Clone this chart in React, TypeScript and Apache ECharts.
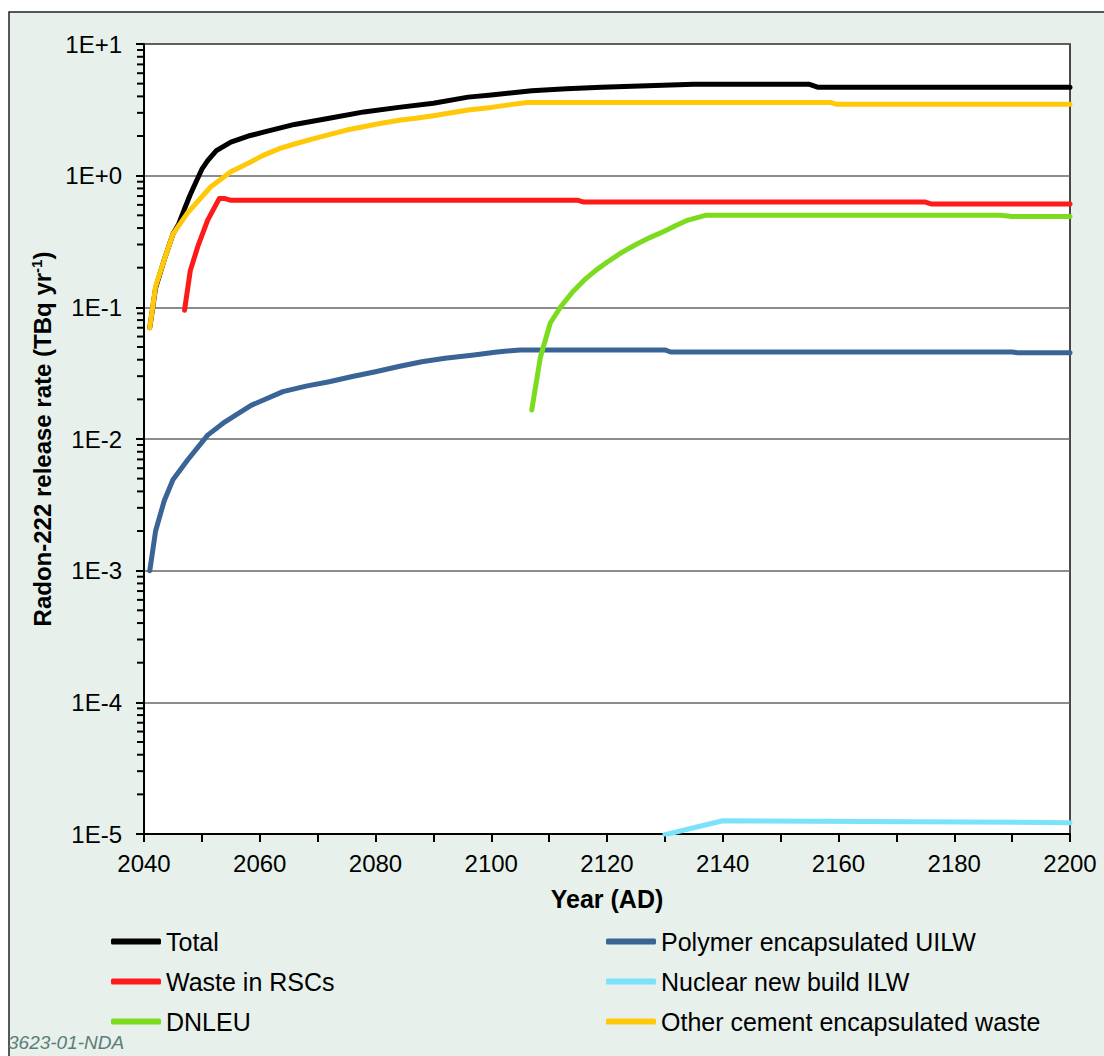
import React, { useEffect, useRef } from "react";
import * as echarts from "echarts";

const FONT = "'Liberation Sans', Arial, sans-serif";

const totalYears = [2041, 2042, 2043.5, 2045, 2046, 2047, 2048, 2049, 2050, 2051, 2052.5, 2055, 2058, 2061, 2066, 2072, 2078, 2084, 2090, 2096, 2100, 2107, 2113, 2119, 2127, 2135, 2155, 2156.5, 2200];
const totalValues = [0.07, 0.14, 0.23, 0.36, 0.43, 0.56, 0.72, 0.9, 1.12, 1.3, 1.55, 1.8, 2.0, 2.16, 2.45, 2.73, 3.05, 3.3, 3.55, 3.95, 4.1, 4.42, 4.58, 4.69, 4.82, 4.94, 4.94, 4.69, 4.69];

const rscYears = [2047, 2048, 2049.3, 2051, 2053, 2054, 2055, 2115, 2116, 2175, 2176, 2200];
const rscValues = [0.095, 0.19, 0.29, 0.46, 0.67, 0.67, 0.65, 0.65, 0.63, 0.63, 0.61, 0.61];

const dnleuYears = [2107, 2108.5, 2110.2, 2112, 2114, 2116, 2118, 2120, 2122.5, 2125, 2127.5, 2130, 2132, 2134, 2137, 2188, 2190, 2200];
const dnleuValues = [0.0166, 0.042, 0.076, 0.101, 0.13, 0.16, 0.19, 0.22, 0.26, 0.3, 0.34, 0.38, 0.42, 0.46, 0.5, 0.5, 0.49, 0.49];

const polymerYears = [2041, 2042, 2043.5, 2045, 2047.5, 2051, 2054, 2058.5, 2064, 2068, 2072, 2076, 2080, 2084, 2088, 2092, 2097, 2101, 2105, 2130, 2131, 2190, 2191, 2200];
const polymerValues = [0.001, 0.002, 0.0034, 0.0049, 0.0069, 0.0107, 0.0135, 0.018, 0.0229, 0.0252, 0.0272, 0.0298, 0.0324, 0.0355, 0.0386, 0.041, 0.0434, 0.0458, 0.0475, 0.0475, 0.0458, 0.0458, 0.0451, 0.0451];

const nnbYears = [2130, 2140, 2200];
const nnbValues = [0.00000987, 0.0000126, 0.0000122];

const otherYears = [2041, 2042, 2043.5, 2045, 2047.5, 2051.5, 2055, 2058, 2060.5, 2063.5, 2066, 2069.5, 2075, 2081, 2084.4, 2087, 2090, 2096, 2100, 2103, 2106.2, 2158.6, 2159.7, 2200];
const otherValues = [0.07, 0.144, 0.23, 0.36, 0.52, 0.82, 1.07, 1.24, 1.42, 1.61, 1.74, 1.92, 2.22, 2.5, 2.65, 2.73, 2.85, 3.15, 3.3, 3.45, 3.6, 3.6, 3.48, 3.48];

const seriesNames = [
  "Total",
  "Waste in RSCs",
  "DNLEU",
  "Polymer encapsulated UILW",
  "Nuclear new build ILW",
  "Other cement encapsulated waste",
];
const seriesColors = ["#000000", "#ff1a1a", "#7ddb1f", "#3a6496", "#7ae2fb", "#ffc90a"];

const minorExponents = [-5, -4, -3, -2, -1, 0];
const minorMultipliers = [2, 3, 4, 5, 6, 7, 8, 9];

const zip = (xs: number[], ys: number[]) => xs.map((x, i) => [x, ys[i]]);

export default function App() {
  const ref = useRef<HTMLDivElement>(null);
  useEffect(() => {
    if (!ref.current) return;
    const chart = echarts.init(ref.current, null, { renderer: "svg" });
    const minorTicks: number[][] = [];
    minorExponents.forEach((e) =>
      minorMultipliers.forEach((m) => minorTicks.push([2040, m * Math.pow(10, e)]))
    );
    const dataSets = [
      zip(totalYears, totalValues),
      zip(rscYears, rscValues),
      zip(dnleuYears, dnleuValues),
      zip(polymerYears, polymerValues),
      zip(nnbYears, nnbValues),
      zip(otherYears, otherValues),
    ];
    const drawOrder = [0, 3, 4, 1, 2, 5];
    const lineSeries = drawOrder.map((i) => ({
      type: "line",
      name: seriesNames[i],
      data: dataSets[i],
      showSymbol: false,
      symbol: "none",
      clip: true,
      color: seriesColors[i],
      lineStyle: { color: seriesColors[i], width: 5, cap: "round", join: "round" },
      itemStyle: { color: seriesColors[i] },
      z: 3,
    }));
    const legendCommon = {
      orient: "vertical",
      icon: "roundRect",
      itemWidth: 50,
      itemHeight: 6,
      itemGap: 15,
      textStyle: { fontFamily: FONT, fontSize: 25, color: "#000" },
      selectedMode: false,
    };
    chart.setOption({
      animation: false,
      backgroundColor: "#ffffff",
      graphic: [
        {
          type: "rect",
          z: -10,
          shape: { x: 9, y: 12, width: 1110, height: 1060 },
          style: { fill: "#e7f0eb", stroke: "#222", lineWidth: 1.5 },
          silent: true,
        },
        {
          type: "text",
          left: 8,
          top: 1033,
          style: {
            text: "3623-01-NDA",
            fill: "#5c7d76",
            font: `italic 19px ${FONT}`,
          },
          silent: true,
        },
      ],
      grid: {
        left: 144,
        top: 44,
        right: 34,
        bottom: 222,
        show: true,
        backgroundColor: "#ffffff",
        borderColor: "#111",
        borderWidth: 1.5,
      },
      legend: [
        { ...legendCommon, left: 106, top: 924, data: seriesNames.slice(0, 3) },
        { ...legendCommon, left: 601, top: 924, data: seriesNames.slice(3, 6) },
      ],
      xAxis: {
        type: "value",
        min: 2040,
        max: 2200,
        interval: 10,
        name: "Year (AD)",
        nameLocation: "middle",
        nameGap: 52,
        nameTextStyle: { fontFamily: FONT, fontSize: 25, fontWeight: "bold", color: "#000" },
        axisLine: { show: true, lineStyle: { color: "#000", width: 2 } },
        axisTick: { show: true, length: 8, inside: false, lineStyle: { color: "#000", width: 2 } },
        axisLabel: {
          fontFamily: FONT,
          fontSize: 24,
          color: "#000",
          margin: 17,
          formatter: (v: number) => (v % 20 === 0 ? String(v) : ""),
        },
        splitLine: { show: false },
      },
      yAxis: {
        type: "log",
        logBase: 10,
        min: 0.00001,
        max: 10,
        splitNumber: 6,
        name: "Radon-222 release rate (TBq yr{sup|-1})",
        nameLocation: "middle",
        nameGap: 88,
        nameTextStyle: {
          fontFamily: FONT,
          fontSize: 24,
          fontWeight: "bold",
          color: "#000",
          rich: {
            sup: { fontFamily: FONT, fontSize: 15, fontWeight: "bold", color: "#000", verticalAlign: "top", lineHeight: 26 },
          },
        },
        axisLine: { show: true, lineStyle: { color: "#000", width: 2 } },
        axisTick: { show: true, length: 8, inside: false, lineStyle: { color: "#000", width: 2 } },
        axisLabel: {
          fontFamily: FONT,
          fontSize: 24,
          color: "#000",
          margin: 22,
          formatter: (v: number) => {
            const e = Math.round(Math.log10(v));
            return "1E" + (e >= 0 ? "+" : "-") + Math.abs(e);
          },
        },
        splitLine: { show: true, lineStyle: { color: "#666", width: 1.5 } },
      },
      series: [
        {
          type: "custom",
          name: "minorTicks",
          silent: true,
          clip: false,
          data: minorTicks,
          z: 5,
          renderItem: (params: any, api: any) => {
            const p = api.coord([api.value(0), api.value(1)]);
            return {
              type: "line",
              shape: { x1: p[0] - 7, y1: p[1], x2: p[0], y2: p[1] },
              style: { stroke: "#000", lineWidth: 2 },
            };
          },
        },
        ...lineSeries,
      ],
    });
    return () => chart.dispose();
  }, []);
  return (
    <div
      ref={ref}
      style={{ position: "fixed", left: 0, top: 0, width: 1104, height: 1056 }}
    />
  );
}
